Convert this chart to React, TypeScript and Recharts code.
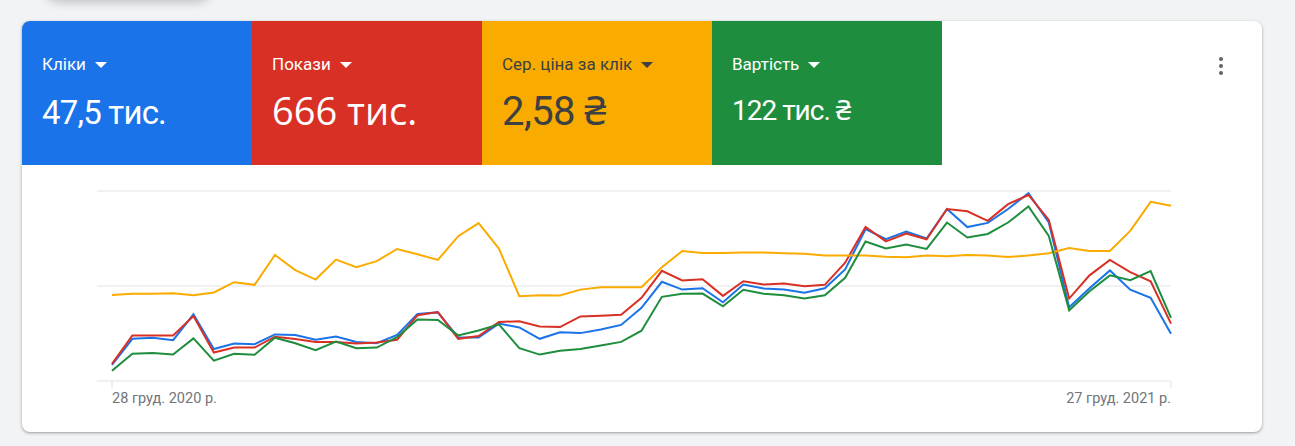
import React from 'react';
import { LineChart, Line, XAxis, YAxis, CartesianGrid } from 'recharts';

const weeks = [
  '28 груд. 2020 р.',
  '4 січ. 2021 р.', '11 січ. 2021 р.', '18 січ. 2021 р.', '25 січ. 2021 р.',
  '1 лют. 2021 р.', '8 лют. 2021 р.', '15 лют. 2021 р.', '22 лют. 2021 р.',
  '1 бер. 2021 р.', '8 бер. 2021 р.', '15 бер. 2021 р.', '22 бер. 2021 р.', '29 бер. 2021 р.',
  '5 квіт. 2021 р.', '12 квіт. 2021 р.', '19 квіт. 2021 р.', '26 квіт. 2021 р.',
  '3 трав. 2021 р.', '10 трав. 2021 р.', '17 трав. 2021 р.', '24 трав. 2021 р.', '31 трав. 2021 р.',
  '7 черв. 2021 р.', '14 черв. 2021 р.', '21 черв. 2021 р.', '28 черв. 2021 р.',
  '5 лип. 2021 р.', '12 лип. 2021 р.', '19 лип. 2021 р.', '26 лип. 2021 р.',
  '2 серп. 2021 р.', '9 серп. 2021 р.', '16 серп. 2021 р.', '23 серп. 2021 р.', '30 серп. 2021 р.',
  '6 вер. 2021 р.', '13 вер. 2021 р.', '20 вер. 2021 р.', '27 вер. 2021 р.',
  '4 жовт. 2021 р.', '11 жовт. 2021 р.', '18 жовт. 2021 р.', '25 жовт. 2021 р.',
  '1 лист. 2021 р.', '8 лист. 2021 р.', '15 лист. 2021 р.', '22 лист. 2021 р.', '29 лист. 2021 р.',
  '6 груд. 2021 р.', '13 груд. 2021 р.', '20 груд. 2021 р.', '27 груд. 2021 р.',
];

// Relative (normalised 0–100) weekly values
const clicks = [
  8.5, 22.2, 22.8, 21.5, 35.1, 16.8, 19.7, 19.4, 24.5, 24.2, 21.7, 23.4, 20.5, 19.9,
  24.2, 35.3, 36.1, 22.9, 22.9, 30.2, 28.2, 22.2, 25.6, 25.2, 27.1, 29.5, 38.5,
  52.2, 48.1, 48.8, 41.4, 50.8, 48.7, 48.1, 46.4, 48.8, 58.7, 79.9, 74.6, 78.7,
  75.0, 90.5, 81.0, 83.2, 90.5, 98.9, 83.4, 38.8, 48.8, 58.2, 48.1, 43.8, 24.9,
];
const impressions = [
  9.0, 24.0, 24.0, 24.0, 34.2, 15.0, 17.6, 17.6, 23.3, 22.1, 20.5, 20.5, 19.7, 20.3,
  21.7, 34.6, 36.3, 22.2, 23.7, 31.1, 31.4, 28.7, 28.4, 34.0, 34.4, 34.9, 43.8,
  58.0, 52.9, 53.6, 44.8, 52.5, 50.8, 51.3, 49.9, 50.6, 62.3, 81.1, 73.5, 77.6,
  74.6, 90.5, 89.3, 84.3, 93.1, 97.9, 84.8, 43.4, 55.6, 63.7, 57.3, 52.5, 30.2,
];
const avgCpc = [
  45.3, 45.9, 45.9, 46.2, 45.1, 46.6, 52.0, 50.6, 66.3, 58.4, 53.4, 63.9, 59.9, 63.1,
  69.5, 66.7, 63.7, 76.2, 83.1, 69.7, 44.6, 45.1, 45.0, 48.1, 49.4, 49.4, 49.4,
  59.9, 68.4, 67.4, 67.4, 67.6, 67.6, 67.2, 67.0, 66.1, 66.1, 66.0, 65.4, 65.1,
  66.0, 65.6, 66.3, 66.1, 65.2, 66.1, 67.2, 70.0, 68.4, 68.4, 79.0, 94.3, 92.2,
];
const cost = [
  5.4, 14.4, 14.8, 13.9, 22.4, 10.7, 14.3, 13.8, 22.8, 19.9, 16.2, 20.8, 17.3, 17.6,
  23.1, 32.4, 32.1, 24.0, 26.6, 29.8, 17.3, 13.9, 15.9, 16.8, 18.7, 20.6, 26.5,
  44.3, 45.9, 46.0, 39.3, 48.0, 45.9, 45.1, 43.4, 45.1, 54.3, 73.4, 69.8, 71.8,
  69.5, 83.4, 75.5, 77.4, 83.4, 91.9, 76.3, 37.2, 47.2, 55.6, 53.1, 57.8, 33.2,
];

const tileTitles = ['Кліки', 'Покази', 'Сер. ціна за клік', 'Вартість'];
const tileValues = ['47,5 тис.', '666 тис.', '2,58 ₴', '122 тис. ₴'];
const tileColors = ['#1a73e8', '#d93025', '#f9ab00', '#1e8e3e'];
const tileText = ['#ffffff', '#ffffff', '#3c4043', '#ffffff'];
const axisTicks = [weeks[0], weeks[weeks.length - 1]];

const data = weeks.map((w, i) => ({
  week: w,
  clicks: clicks[i],
  impressions: impressions[i],
  avgCpc: avgCpc[i],
  cost: cost[i],
}));

const FONT = 'Roboto, "Noto Sans", Arial, sans-serif';

const valueStyles: React.CSSProperties[] = [
  { top: 72, fontSize: 33, lineHeight: '40px', letterSpacing: -0.8, fontFamily: FONT },
  { top: 66, fontSize: 38, lineHeight: '46px', letterSpacing: 0, fontFamily: '"Open Sans", Roboto, sans-serif' },
  { top: 67, fontSize: 40, lineHeight: '48px', letterSpacing: -0.6, fontFamily: FONT },
  { top: 73, fontSize: 28, lineHeight: '34px', letterSpacing: -1, fontFamily: FONT },
];

const DateTick = (props: any) => {
  const { x, y, payload, index } = props;
  const anchor = index === 0 ? 'start' : 'end';
  return (
    <text x={x} y={y} dy="0.71em" textAnchor={anchor} fill="#70757a" fontSize={14.5} fontFamily={FONT}>
      {payload.value}
    </text>
  );
};

const Arrow = ({ color }: { color: string }) => (
  <svg width="12" height="6" viewBox="0 0 10 5" style={{ marginLeft: 9, marginTop: 1 }}>
    <path d="M0 0 L5 5 L10 0 Z" fill={color} />
  </svg>
);

export default function App() {
  return (
    <div
      style={{
        position: 'absolute',
        left: 0,
        top: 0,
        width: 1295,
        height: 446,
        background: '#f1f3f4',
        overflow: 'hidden',
        fontFamily: FONT,
      }}
    >
      <div
        style={{
          position: 'absolute',
          left: 42,
          top: -40,
          width: 173,
          height: 40,
          borderRadius: 20,
          background: '#f1f3f4',
          boxShadow: '0 3px 8px rgba(60,64,67,0.25)',
        }}
      />
      <div
        style={{
          position: 'absolute',
          left: 22,
          top: 21,
          width: 1240,
          height: 411,
          background: '#ffffff',
          borderRadius: 8,
          overflow: 'hidden',
          boxShadow: '0 1px 2px 0 rgba(60,64,67,0.3), 0 1px 3px 1px rgba(60,64,67,0.15)',
        }}
      >
        {tileTitles.map((t, i) => (
          <div
            key={t}
            style={{
              position: 'absolute',
              left: i * 230,
              top: 0,
              width: 230,
              height: 144,
              background: tileColors[i],
              color: tileText[i],
            }}
          >
            <div
              style={{
                position: 'absolute',
                left: 20,
                top: 33,
                height: 20,
                display: 'flex',
                alignItems: 'center',
                fontSize: 17,
                lineHeight: '20px',
                whiteSpace: 'nowrap',
              }}
            >
              <span>{t}</span>
              <Arrow color={tileText[i]} />
            </div>
            <div style={{ position: 'absolute', left: 20, whiteSpace: 'nowrap', ...valueStyles[i] }}>
              {tileValues[i]}
            </div>
          </div>
        ))}
        <div style={{ position: 'absolute', left: 1197, top: 36 }}>
          {[0, 1, 2].map((k) => (
            <div
              key={k}
              style={{ width: 4, height: 4, borderRadius: 2, background: '#5f6368', marginBottom: 3 }}
            />
          ))}
        </div>
        <div style={{ position: 'absolute', left: 0, top: 150 }}>
          <LineChart
            width={1240}
            height={261}
            data={data}
            margin={{ top: 20, right: 91, left: 75, bottom: 21 }}
          >
            <CartesianGrid vertical={false} stroke="#e3e3e3" strokeWidth={1} />
            <XAxis
              dataKey="week"
              ticks={axisTicks}
              interval={0}
              axisLine={false}
              tickLine={{ stroke: '#e0e0e0' }}
              tickSize={7}
              tickMargin={5}
              padding={{ left: 15, right: 0 }}
              height={30}
              tick={<DateTick />}
            />
            <YAxis hide domain={[0, 100]} ticks={[0, 50, 100]} />
            <Line type="linear" dataKey="clicks" stroke="#1a73e8" strokeWidth={2} dot={false} isAnimationActive={false} />
            <Line type="linear" dataKey="impressions" stroke="#d93025" strokeWidth={2} dot={false} isAnimationActive={false} />
            <Line type="linear" dataKey="avgCpc" stroke="#f9ab00" strokeWidth={2} dot={false} isAnimationActive={false} />
            <Line type="linear" dataKey="cost" stroke="#1e8e3e" strokeWidth={2} dot={false} isAnimationActive={false} />
          </LineChart>
        </div>
      </div>
    </div>
  );
}
